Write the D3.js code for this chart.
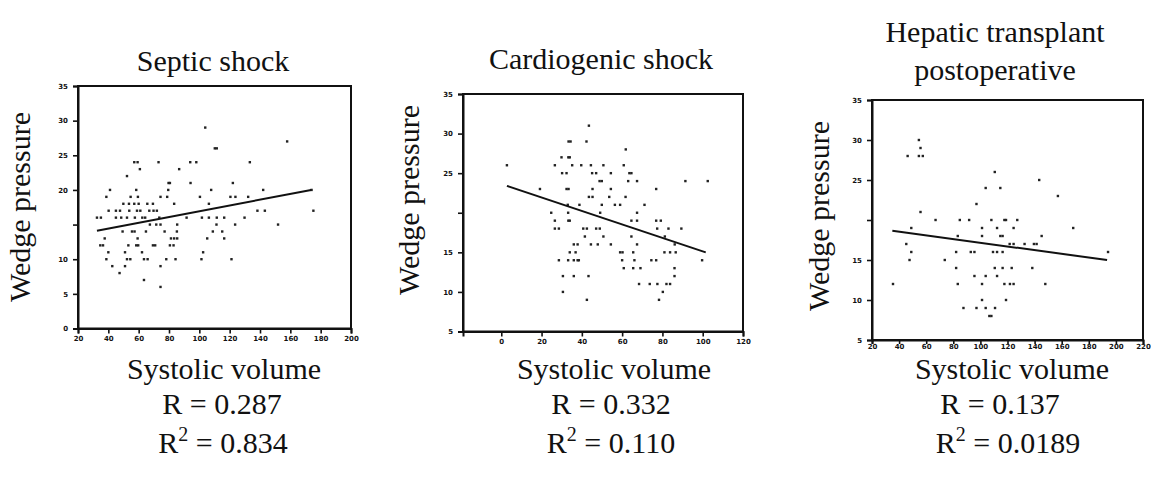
<!DOCTYPE html>
<html>
<head>
<meta charset="utf-8">
<script src="https://cdn.jsdelivr.net/npm/d3@7"></script>
<style>
  body { margin: 0; background: #fff; }
  svg { display: block; }
  .lbl { font-family: "Liberation Serif", "Times New Roman", serif; fill: #111; }
  .axis text { font-family: "DejaVu Sans", sans-serif; font-size: 7px; font-weight: 700; fill: #111; }
</style>
</head>
<body>
<svg id="chart" width="1151" height="481"></svg>
<script>
// ── Data ────────────────────────────────────────────────────────────────────
const titles = [["Septic shock"], ["Cardiogenic shock"], ["Hepatic transplant", "postoperative"]];
const rValues = ["0.287", "0.332", "0.137"];
const r2Values = ["0.834", "0.110", "0.0189"];

const septicXTicks = [20, 40, 60, 80, 100, 120, 140, 160, 180, 200];
const septicYTicks = [0, 5, 10, 15, 20, 25, 30, 35];
const cardioXTicks = [0, 20, 40, 60, 80, 100, 120];
const cardioYTicks = [5, 10, 15, 20, 25, 30, 35];
const hepaticXTicks = [20, 40, 60, 80, 100, 120, 140, 160, 180, 200, 220];
const hepaticYTicks = [5, 10, 15, 20, 25, 30, 35];

const septicPoints = [
  [103.9,29],[157.9,27],[110.2,26],[111.5,26],[57.1,24],[59.3,24],[73.1,24],[94,24],[98,24],[133.3,24],
  [60.8,23],[86.7,23],[52.3,22],[79.7,21],[80.6,21],[94.2,21],[122.1,21],[41.1,20],[58.4,20],[79.5,20],
  [107.8,20],[142.1,20],[174,20],[38.7,19],[54.7,19],[59.5,19],[74.4,19],[78.8,19],[100.4,19],[120.5,19],
  [123.8,19],[132.2,19],[49.9,18],[53.6,18],[57.1,18],[60,18],[65.7,18],[69.4,18],[83.4,18],[106.3,18],
  [40.2,17],[45,17],[47.7,17],[53.8,17],[58.9,17],[61.1,17],[67,17],[69.8,17],[72,17],[138.3,17],
  [143.2,17],[175.2,17],[32.5,16],[35.1,16],[45,16],[48.5,16],[52.3,16],[57.5,16],[62.4,16],[64.3,16],
  [73.6,16],[91.6,16],[101.7,16],[106.3,16],[111.5,16],[116.4,16],[129.8,16],[67.4,15],[71.6,15],[74.4,15],
  [85.4,15],[111.3,15],[123.6,15],[151.9,15],[49.4,14],[55.6,14],[57.3,14],[64.8,14],[77.1,14],[85.2,14],
  [108.9,14],[115.1,14],[37.6,13],[59.3,13],[81.3,13],[83.4,13],[85.4,13],[105.2,13],[116.4,13],[34.7,12],
  [36.5,12],[53.2,12],[58.4,12],[59.7,12],[69.4,12],[70.9,12],[80.6,12],[83,12],[40,11],[51,11],
  [62.2,11],[102.5,11],[38.7,10],[52.3,10],[54.5,10],[63.5,10],[65.9,10],[78.2,10],[84.3,10],[101.4,10],
  [121.2,10],[42.6,9],[51,9],[74.4,9],[47.4,8],[63.5,7],[74.4,6]
];
const cardioPoints = [
  [43.5,31],[33.4,29],[34.4,29],[42.3,29],[61.8,28],[29.9,27],[33.3,27],[34,27],[2.8,26],[26.6,26],
  [35.2,26],[39.7,26],[44.5,26],[50.7,26],[60.8,26],[30.2,25],[32.4,25],[45.1,25],[47.1,25],[54.4,25],
  [63.6,25],[64.6,25],[48.8,24],[49.9,24],[63,24],[67.4,24],[91.4,24],[102.5,24],[19.2,23],[32.4,23],
  [33.4,23],[45.3,23],[54.4,23],[76.9,23],[43.5,22],[45.3,22],[53.6,22],[61.7,22],[33,21],[38.8,21],
  [49.9,21],[56.4,21],[59,21],[71.1,21],[24.8,20],[33.2,20],[49.1,20],[67.4,20],[26.6,19],[33.3,19],
  [34,19],[64.6,19],[67.4,19],[76.9,19],[79.2,19],[26.6,18],[28.6,18],[40.7,18],[42.5,18],[47.1,18],
  [48.9,18],[77.4,18],[83,18],[89.4,18],[41.5,17],[50.7,17],[64.6,17],[81.2,17],[36,16],[37.9,16],
  [44.5,16],[47.9,16],[54.4,16],[67.4,16],[86.1,16],[34,15],[36.9,15],[59,15],[60.2,15],[65.5,15],
  [81,15],[83.8,15],[86.6,15],[28.6,14],[33.2,14],[36,14],[37.9,14],[38.5,14],[60,14],[66.1,14],
  [74.5,14],[76.9,14],[99.7,14],[60.8,13],[65.5,13],[69.1,13],[86,13],[30.6,12],[36,12],[43.3,12],
  [86,12],[68.4,11],[73.7,11],[77.5,11],[82,11],[83.8,11],[30.6,10],[80.2,10],[42.5,9],[78.3,9]
];
const hepaticPoints = [
  [54.6,30],[55.8,29],[46.3,28],[54.6,28],[57.5,28],[110.6,26],[143.4,25],[103.9,24],[114.7,24],[157.2,23],
  [97.1,22],[55.8,21],[66.9,20],[84.8,20],[91.7,20],[108.1,20],[117.7,20],[118.9,20],[127.2,20],[49,19],
  [101.2,19],[112.3,19],[124.5,19],[168.5,19],[83.3,18],[101.2,18],[114.7,18],[116.4,18],[145.2,18],[45.3,17],
  [121.6,17],[124.5,17],[132.6,17],[139.5,17],[141.5,17],[49,16],[82.1,16],[92.9,16],[95.6,16],[109.3,16],
  [112.3,16],[116.4,16],[194.2,16],[47.7,15],[73.7,15],[82.1,14],[110.6,14],[116.4,14],[123.1,14],[138.3,14],
  [95.6,13],[103.9,13],[112.3,13],[35.5,12],[83.3,12],[101.2,12],[117.7,12],[121.8,12],[124.5,12],[147.9,12],
  [101.2,10],[118.9,10],[87.5,9],[97.1,9],[103.9,9],[110.8,9],[106.6,8],[108.1,8]
];

// regression lines: endpoints
const septicFit = [[32.5, 14.1], [173.7, 20.0]];
const cardioFit = [[2.8, 23.4], [101.5, 15.0]];
const hepaticFit = [[35, 18.65], [193.5, 15.0]];

// ── Layout ──────────────────────────────────────────────────────────────────
const svg = d3.select("#chart");
const FONT = 30;

const panels = [
  { pts: septicPoints, fit: septicFit, xTicks: septicXTicks, yTicks: septicYTicks,
    xDomain: [20, 200], yDomain: [0, 35], blank: [15],
    left: 78, right: 351, top: 86, bottom: 328.5, xTick: 5, xPad: 3,
    titleX: 213, titleY: [71], yLabelX: 30, yLabelY: 207,
    xLabelX: 224, rX: 222, r2X: 223 },
  { pts: cardioPoints, fit: cardioFit, xTicks: cardioXTicks, yTicks: cardioYTicks,
    xDomain: [-19, 120], yDomain: [5, 35], blank: [20],
    left: 463, right: 743, top: 94, bottom: 331.5, xTick: 5, xPad: 3,
    titleX: 601, titleY: [69], yLabelX: 419, yLabelY: 200,
    xLabelX: 614, rX: 611, r2X: 611 },
  { pts: hepaticPoints, fit: hepaticFit, xTicks: hepaticXTicks, yTicks: hepaticYTicks,
    xDomain: [20, 220], yDomain: [5, 35], blank: [20],
    left: 872, right: 1143, top: 100, bottom: 340, xTick: 4, xPad: 0,
    titleX: 995, titleY: [42, 80], yLabelX: 829, yLabelY: 216,
    xLabelX: 1012, rX: 1000, r2X: 1008 }
];

function drawPanel(p, i) {
  const x = d3.scaleLinear().domain(p.xDomain).range([p.left, p.right]);
  const y = d3.scaleLinear().domain(p.yDomain).range([p.bottom, p.top]);
  const g = svg.append("g");

  // frame (top + right borders)
  g.append("rect")
    .attr("x", p.left).attr("y", p.top)
    .attr("width", p.right - p.left).attr("height", p.bottom - p.top)
    .attr("fill", "none").attr("stroke", "#111").attr("stroke-width", 2);

  const xAxis = g.append("g").attr("class", "axis")
    .attr("transform", `translate(0,${p.bottom})`)
    .call(d3.axisBottom(x).tickValues(p.xTicks).tickSize(p.xTick).tickPadding(p.xPad).tickFormat(d => d));
  const yAxis = g.append("g").attr("class", "axis")
    .attr("transform", `translate(${p.left},0)`)
    .call(d3.axisLeft(y).tickValues(p.yTicks).tickSize(5).tickPadding(5)
      .tickFormat(d => p.blank.includes(d) ? "" : d));
  [xAxis, yAxis].forEach(a => {
    a.select(".domain").attr("stroke", "#111").attr("stroke-width", 2);
    a.selectAll(".tick line").attr("stroke", "#111").attr("stroke-width", 1.6);
  });

  // points
  g.selectAll("rect.pt").data(p.pts).join("rect").attr("class", "pt")
    .attr("x", d => x(d[0]) - 1.2).attr("y", d => y(d[1]) - 1.2)
    .attr("width", 2.4).attr("height", 2.4).attr("fill", "#222");

  // fit line
  g.append("path").datum(p.fit)
    .attr("d", d3.line().x(d => x(d[0])).y(d => y(d[1])))
    .attr("fill", "none").attr("stroke", "#111").attr("stroke-width", 2);

  // title
  titles[i].forEach((t, k) => {
    svg.append("text").attr("class", "lbl").attr("x", p.titleX).attr("y", p.titleY[k])
      .attr("text-anchor", "middle").attr("font-size", FONT).text(t);
  });

  // y label
  svg.append("text").attr("class", "lbl")
    .attr("transform", `translate(${p.yLabelX},${p.yLabelY}) rotate(-90)`)
    .attr("text-anchor", "middle").attr("font-size", FONT).text("Wedge pressure");

  // x label + stats
  svg.append("text").attr("class", "lbl").attr("x", p.xLabelX).attr("y", 379)
    .attr("text-anchor", "middle").attr("font-size", FONT).text("Systolic volume");
  svg.append("text").attr("class", "lbl").attr("x", p.rX).attr("y", 414)
    .attr("text-anchor", "middle").attr("font-size", FONT).text(`R = ${rValues[i]}`);
  const r2 = svg.append("text").attr("class", "lbl").attr("x", p.r2X).attr("y", 453)
    .attr("text-anchor", "middle").attr("font-size", FONT);
  r2.append("tspan").text("R");
  r2.append("tspan").attr("font-size", 20).attr("dy", -12).text("2");
  r2.append("tspan").attr("dy", 12).text(` = ${r2Values[i]}`);
}

panels.forEach(drawPanel);
</script>
</body>
</html>
